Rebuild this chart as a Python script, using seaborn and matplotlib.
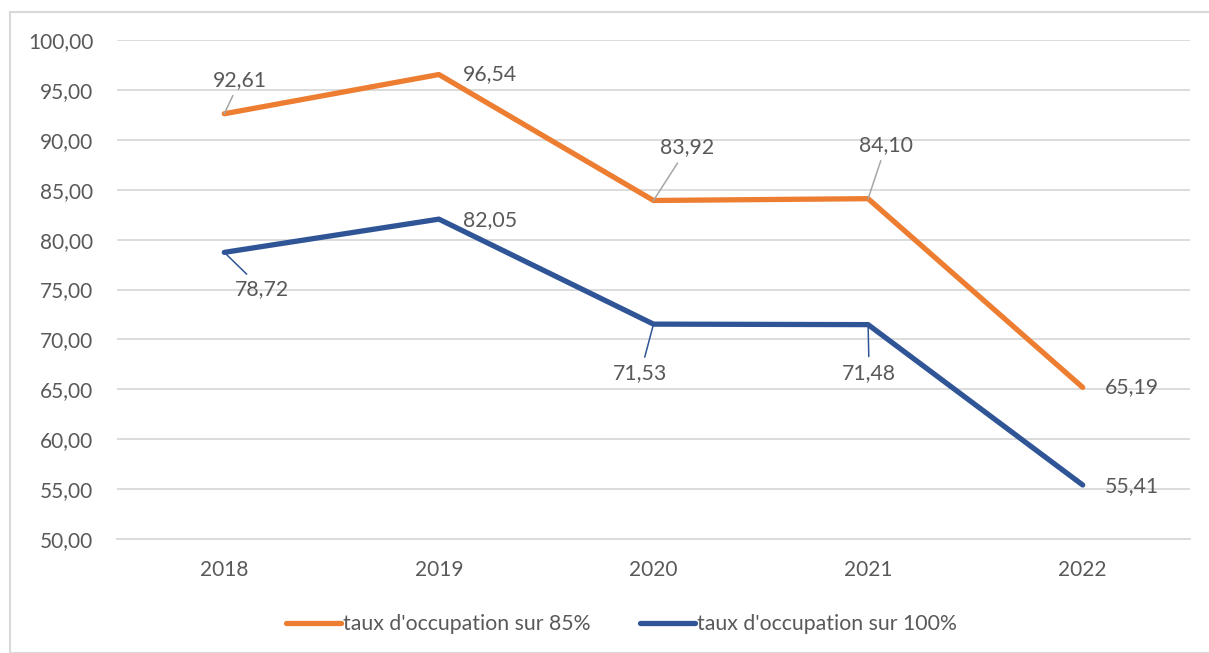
import seaborn as sns
import pandas as pd
import matplotlib.pyplot as plt
from matplotlib.patches import Rectangle

years = ["2018", "2019", "2020", "2021", "2022"]
taux_85 = [92.61, 96.54, 83.92, 84.10, 65.19]
taux_100 = [78.72, 82.05, 71.53, 71.48, 55.41]
serie_85 = "taux d'occupation sur 85%"
serie_100 = "taux d'occupation sur 100%"

df = pd.DataFrame({
    "annee": years * 2,
    "taux": taux_85 + taux_100,
    "serie": [serie_85] * 5 + [serie_100] * 5,
})

ORANGE = "#ED7D31"
BLUE = "#2F5597"
TXT = "#595959"

sns.set_theme(style="white")
plt.rcParams["font.family"] = ["Lato", "DejaVu Sans"]

fig = plt.figure(figsize=(12.09, 6.53), dpi=100)
ax = fig.add_axes([117 / 1209, 1 - 539 / 653, 1073 / 1209, 499 / 653])

# light frame around the chart (like the excel chart area)
fig.patches.append(Rectangle((10 / 1209, 0), 1.0, 1 - 12 / 653, transform=fig.transFigure,
                             fill=False, edgecolor="#D9D9D9", linewidth=1.5))

sns.lineplot(data=df, x="annee", y="taux", hue="serie", palette=[ORANGE, BLUE],
             linewidth=3.8, ax=ax, sort=False, solid_capstyle="round")

ax.set_xlim(-0.5, 4.5)
ax.set_ylim(50, 100)
ax.set_yticks(range(50, 101, 5))
ax.set_yticklabels([f"{v:.2f}".replace(".", ",") for v in range(50, 101, 5)])
ax.yaxis.grid(True, color="#D9D9D9", linewidth=1.3)
ax.set_axisbelow(True)
for s in ax.spines.values():
    s.set_visible(False)
ax.spines["bottom"].set_visible(True)
ax.spines["bottom"].set_color("#D9D9D9")
ax.spines["bottom"].set_linewidth(1.3)
ax.set_xlabel("")
ax.set_ylabel("")
ax.tick_params(axis="both", labelsize=15, colors=TXT, length=0)
ax.tick_params(axis="y", pad=17)
ax.tick_params(axis="x", pad=15)

# data labels: offsets in pixels, leader line colour (None = no leader)
offs_85 = [(16, 34, "#A6A6A6"), (51, 0, None), (34, 53, "#A6A6A6"), (18, 54, "#A6A6A6"), (49, 0, None)]
offs_100 = [(38, -37, BLUE), (51, -1, None), (-13, -49, BLUE), (1, -48, BLUE), (49, -1, None)]
for vals, offs in [(taux_85, offs_85), (taux_100, offs_100)]:
    for i, (v, (dx, dy, lc)) in enumerate(zip(vals, offs)):
        props = None
        if lc:
            props = dict(arrowstyle="-", color=lc, linewidth=1.1, shrinkA=2, shrinkB=0)
        ax.annotate(f"{v:.2f}".replace(".", ","), xy=(i, v), xytext=(dx, dy),
                    textcoords="offset pixels", ha="center", va="center",
                    fontsize=15.3, color=TXT, arrowprops=props)

leg = ax.legend(loc="upper center", bbox_to_anchor=(0.47, -0.112), ncol=2, frameon=False,
                fontsize=15.3, handlelength=2.6, handletextpad=0.1, columnspacing=2.3)
for t in leg.get_texts():
    t.set_color(TXT)

fig.savefig("out.png", dpi=100)
